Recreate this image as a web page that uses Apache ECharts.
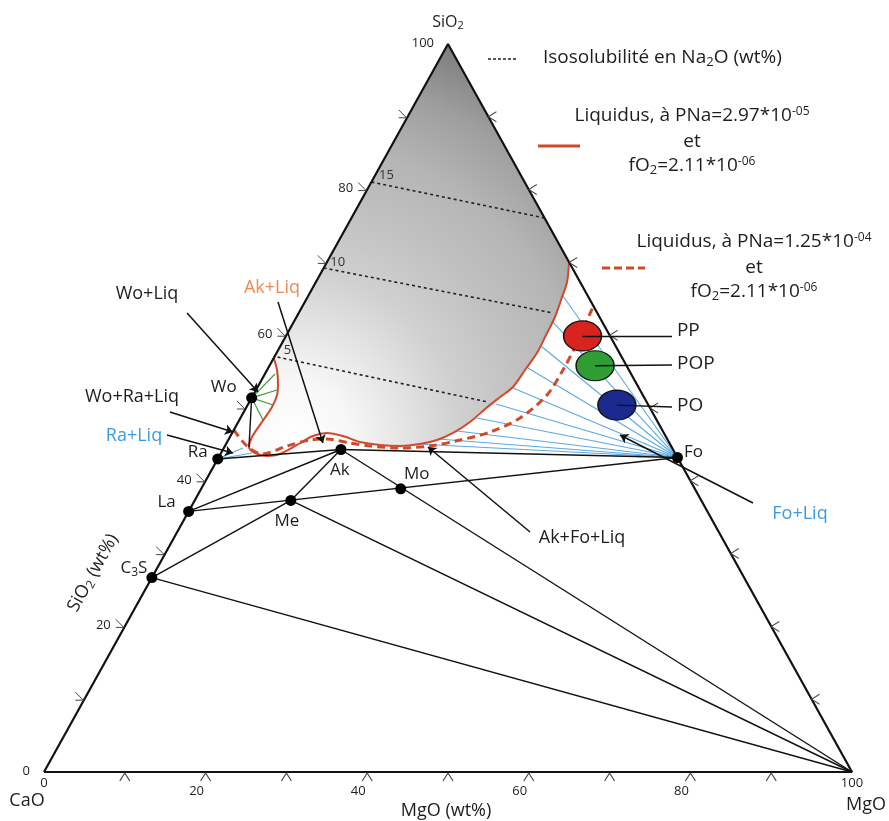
<!DOCTYPE html>
<html><head><meta charset="utf-8">
<script src="https://cdn.jsdelivr.net/npm/echarts@6/dist/echarts.min.js"></script>
<style>html,body{margin:0;padding:0;background:#fff}#c{width:889px;height:821px}</style>
</head><body><div id="c"></div>
<script>
// All compositions are [SiO2, MgO] in wt% (CaO = 100 - SiO2 - MgO)
const vertexNames = ['CaO', 'MgO', 'SiO2'];
const vertexComp = [[0, 0], [0, 100], [100, 0]];

const phaseNames = ['Wo', 'Ra', 'La', 'C3S', 'Ak', 'Me', 'Mo', 'Fo'];
const phaseComp = [[51.4, 0], [43.0, 0], [35.8, 0], [26.7, 0], [44.3, 14.6], [37.3, 11.9], [38.9, 24.7], [43.2, 56.8]];

const tieLines = [['Ra', 'Ak'], ['Ak', 'Fo'], ['La', 'Fo'], ['La', 'Ak'], ['C3S', 'Me'], ['Me', 'Ak'], ['Ak', 'MgO'], ['Me', 'MgO'], ['C3S', 'MgO']];

// liquidus at PNa = 2.97e-5 (solid)
const liquidusSolid = [[56.87, 0], [55.22, 1.23], [53.16, 2.38], [51.79, 2.95], [50.14, 3.15], [48.08, 2.94], [46.02, 2.73], [44.64, 3.05], [43.82, 4.2], [43.41, 5.9], [43.68, 7.37], [44.92, 8.85], [46.15, 10.21], [46.57, 11.74], [46.15, 13.92], [45.33, 16.45], [44.92, 19.12], [44.78, 21.67], [45.05, 24.0], [45.6, 25.84], [46.57, 27.34], [48.08, 28.68], [50.1, 29.8], [51.5, 30.7], [52.88, 31.6], [55.22, 31.92], [57.55, 32.23], [60.03, 32.12], [62.5, 31.99], [64.84, 31.57], [67.31, 31.08], [70.05, 29.95]];
// liquidus at PNa = 1.25e-4 (dashed)
const liquidusDashed = [[46.98, 0], [44.78, 2.73], [43.68, 5.14], [44.78, 7.68], [45.6, 10.12], [45.74, 12.15], [45.19, 15.27], [44.78, 17.96], [44.51, 21.81], [44.78, 25.38], [45.6, 28.69], [46.7, 31.85], [48.63, 34.6], [51.79, 36.36], [55.22, 36.62], [58.38, 36.53], [61.13, 36.27], [63.87, 36.01]];

// Na2O isosolubility lines (wt%)
const isoValues = [15, 10, 5];
const isoStart = [[81.04, 0], [69.23, 0], [57.0, 0.4]];
const isoEnd = [[76.1, 23.9], [63.05, 31.5], [50.82, 29.54]];

// tie-line ends on the liquidus
const foTieEnds = [[65.38, 31.54], [61.81, 32.09], [58.52, 32.25], [55.49, 32.15], [52.75, 31.67], [50.55, 30.67], [48.63, 29.28], [46.84, 27.69], [45.74, 25.89], [45.05, 23.76]];
const woTieEnds = [[54.67, 1.25], [52.47, 2.6], [50.41, 3.13], [48.35, 2.92]];
const raTieEnds = [[44.51, 2.38], [43.82, 3.83]];
const woBoundaryEnd = [44.64, 3.05];

// slag samples
const sampleNames = ['PP', 'POP', 'PO'];
const sampleComp = [[59.9, 36.7], [55.8, 40.3], [50.4, 45.7]];
const sampleLabelAt = [[59.89, 47.77], [55.91, 49.77], [50.14, 52.65]];
const sampleColors = ['#d8231f', '#2e9e34', '#1b2a8e'];

// annotation arrows
const arrowNames = ['Wo+Liq', 'Ak+Liq', 'Wo+Ra+Liq', 'Ra+Liq', 'Ak+Fo+Liq', 'Fo+Liq'];
const arrowFrom = [[63.05, -13.82], [64.56, -3.32], [49.45, -9.14], [46.29, -7.93], [32.97, 43.67], [36.95, 69.27]];
const arrowTo = [[52.2, 0.39], [45.19, 11.93], [46.7, 0.04], [43.82, 1.48], [44.64, 25.2], [46.29, 48.14]];

const tickVals = [10, 20, 30, 40, 50, 60, 70, 80, 90];
const labelVals = [0, 20, 40, 60, 80, 100];

const FONT = "'Open Sans', 'Noto Sans', sans-serif";
const RED = '#cf4a2b';
const INK = '#1e1e1e';

function toXY(c) { return [c[1] + c[0] / 2, c[0]]; }
function comp(name) {
  const i = phaseNames.indexOf(name);
  if (i >= 0) return phaseComp[i];
  return vertexComp[vertexNames.indexOf(name)];
}
function seg(a, b) { return { coords: [toXY(a), toXY(b)] }; }

const chart = echarts.init(document.getElementById('c'), null, { renderer: 'canvas' });

const liqPoly = [[100, 0]].concat(liquidusSolid.slice().reverse());

const phaseLabelOffsets = { Wo: [-28, -11], Ra: [-20, -7], La: [-22, -9], C3S: [-18, -9], Ak: [-1, 21], Me: [-4, 21], Mo: [16, -15], Fo: [16, -5] };

const SUB = (fs, pad) => ({ fontSize: fs, fontFamily: FONT, color: INK, fill: INK, verticalAlign: 'bottom', padding: [pad, 0, 0, 0] });
const SUP = (fs, pad) => ({ fontSize: fs, fontFamily: FONT, color: INK, fill: INK, verticalAlign: 'top', padding: [0, 0, pad, 0] });

function gtext(x, y, text, fs, color, extra) {
  return Object.assign({ type: 'text', x: x, y: y, style: { text: text, fontSize: fs, fontFamily: FONT, fill: color || INK, align: 'center', verticalAlign: 'middle' } }, extra || {});
}

const option = {
  animation: false,
  grid: { left: 44, right: 37, top: 44, bottom: 49 },
  xAxis: { type: 'value', min: 0, max: 100, show: false },
  yAxis: { type: 'value', min: 0, max: 100, show: false },
  series: [
    {
      type: 'custom', silent: true, z: 1, data: [0],
      renderItem: function (params, api) {
        const pts = liqPoly.map(p => api.coord(toXY(p)));
        return {
          type: 'polygon', shape: { points: pts },
          style: {
            fill: new echarts.graphic.RadialGradient(0.13, 0.96, 1.33, [
              { offset: 0, color: '#ffffff' }, { offset: 0.14, color: '#f7f7f7' },
              { offset: 0.27, color: '#e4e4e4' }, { offset: 0.4, color: '#d0d0d0' },
              { offset: 0.55, color: '#c1c1c1' }, { offset: 0.7, color: '#b5b5b5' },
              { offset: 0.85, color: '#9f9f9f' }, { offset: 1, color: '#7c7c7c' }])
          }
        };
      }
    },
    { // isolines
      type: 'lines', coordinateSystem: 'cartesian2d', z: 2, silent: true,
      data: isoStart.map((p, i) => seg(p, isoEnd[i])),
      lineStyle: { color: '#222', width: 1.6, type: [3, 3], opacity: 1 }
    },
    { // isoline labels
      type: 'scatter', z: 3, silent: true, symbolSize: 0, itemStyle: { opacity: 1 },
      data: isoStart.map((p, i) => ({ value: toXY(p), name: String(isoValues[i]), label: { offset: [[15, -7], [14, -6], [10, -7]][i] } })),
      label: { show: true, position: 'inside', formatter: '{b}', fontSize: 13, fontFamily: FONT, color: '#333' }
    },
    { // Fo and Ra tie lines (blue)
      type: 'lines', coordinateSystem: 'cartesian2d', z: 3, silent: true,
      data: foTieEnds.map(p => seg(comp('Fo'), p)).concat(raTieEnds.map(p => seg(comp('Ra'), p))),
      lineStyle: { color: '#5aa9e2', width: 1.1, opacity: 1 }
    },
    { // Wo tie lines (green)
      type: 'lines', coordinateSystem: 'cartesian2d', z: 3, silent: true,
      data: woTieEnds.map(p => seg(comp('Wo'), p)),
      lineStyle: { color: '#3f9d3a', width: 1.2, opacity: 1 }
    },
    { // dashed liquidus
      type: 'line', z: 4, silent: true, symbol: 'none', smooth: 0.3,
      data: liquidusDashed.map(toXY),
      lineStyle: { color: RED, width: 3, type: [8, 5] }
    },
    { // solid liquidus
      type: 'line', z: 5, silent: true, symbol: 'none', smooth: 0.3,
      data: liquidusSolid.map(toXY),
      lineStyle: { color: RED, width: 2 }
    },
    { // black tie lines
      type: 'lines', coordinateSystem: 'cartesian2d', z: 6, silent: true,
      data: tieLines.map(t => seg(comp(t[0]), comp(t[1]))).concat([seg(comp('Wo'), woBoundaryEnd)]),
      lineStyle: { color: '#111', width: 1.4, opacity: 1 }
    },
    { // triangle
      type: 'line', z: 7, silent: true, symbol: 'none',
      data: [comp('CaO'), comp('SiO2'), comp('MgO'), comp('CaO')].map(toXY),
      lineStyle: { color: '#111', width: 2.2 }
    },
    { // left ticks
      type: 'scatter', z: 7, silent: true,
      symbol: 'path://M0 0L8 8L0 8', symbolSize: [8, 8], symbolOffset: [-5, -3],
      itemStyle: { color: 'transparent', borderColor: '#444', borderWidth: 1, opacity: 1 },
      data: tickVals.map(v => toXY([v, 0]))
    },
    { // bottom ticks
      type: 'scatter', z: 7, silent: true,
      symbol: 'path://M0 8L5 0L10 8', symbolSize: [10, 8], symbolOffset: [0, 5],
      itemStyle: { color: 'transparent', borderColor: '#444', borderWidth: 1, opacity: 1 },
      data: tickVals.map(v => toXY([0, v]))
    },
    { // right ticks
      type: 'scatter', z: 7, silent: true,
      symbol: 'path://M8 0L0 5L8 10', symbolSize: [8, 10], symbolOffset: [4, 0],
      itemStyle: { color: 'transparent', borderColor: '#444', borderWidth: 1, opacity: 1 },
      data: tickVals.map(v => toXY([v, 100 - v]))
    },
    { // left tick labels (SiO2)
      type: 'scatter', z: 8, silent: true, symbolSize: 0, itemStyle: { opacity: 1 },
      data: labelVals.map(v => ({ value: toXY([v, 0]), name: String(v) })),
      label: { show: true, position: 'inside', align: 'right', offset: [-14, -1], formatter: '{b}', fontSize: 13, fontFamily: FONT, color: INK }
    },
    { // bottom tick labels (MgO)
      type: 'scatter', z: 8, silent: true, symbolSize: 0, itemStyle: { opacity: 1 },
      data: labelVals.map(v => ({ value: toXY([0, v]), name: String(v), label: { offset: (v === 0 || v === 100) ? [0, 11] : [-9, 19] } })),
      label: { show: true, position: 'inside', formatter: '{b}', fontSize: 13, fontFamily: FONT, color: INK }
    },
    { // phases
      type: 'scatter', z: 10, silent: true, symbolSize: 11,
      itemStyle: { color: '#000', opacity: 1 },
      data: phaseNames.map((n, i) => ({ value: toXY(phaseComp[i]), name: n, label: { offset: phaseLabelOffsets[n] } })),
      label: {
        show: true, position: 'inside', fontSize: 17, fontFamily: FONT, color: INK,
        formatter: p => p.name === 'C3S' ? '{n|C}{s|3}{n|S}' : p.name,
        rich: { n: { fontSize: 17, fontFamily: FONT, color: INK }, s: SUB(12, 8) }
      }
    },
    { // sample connector lines
      type: 'lines', coordinateSystem: 'cartesian2d', z: 11, silent: true,
      data: sampleComp.map((p, i) => seg(p, sampleLabelAt[i])),
      lineStyle: { color: '#111', width: 1.4, opacity: 1 }
    },
    { // samples (ellipses)
      type: 'scatter', z: 10, silent: true, symbol: 'circle', symbolSize: [38, 30],
      data: sampleComp.map((p, i) => ({ value: toXY(p), itemStyle: { color: sampleColors[i] } })),
      itemStyle: { borderColor: '#111', borderWidth: 1.3, opacity: 1 }
    },
    { // sample labels
      type: 'scatter', z: 12, silent: true, symbolSize: 0, itemStyle: { opacity: 1 },
      data: sampleLabelAt.map((p, i) => ({ value: toXY(p), name: sampleNames[i], label: { offset: [0, i === 0 ? -5 : -1] } })),
      label: { show: true, position: 'right', distance: 5, formatter: '{b}', fontSize: 19, fontFamily: FONT, color: INK }
    },
    { // annotation arrows
      type: 'lines', coordinateSystem: 'cartesian2d', z: 12, silent: true,
      symbol: ['none', 'arrow'], symbolSize: 8,
      data: arrowFrom.map((p, i) => seg(p, arrowTo[i])),
      lineStyle: { color: '#111', width: 1.5, opacity: 1 }
    }
  ],
  graphic: [
    { type: 'text', x: 448, y: 22, style: { text: 'SiO{s|2}', fontSize: 16, fontFamily: FONT, fill: INK, align: 'center', verticalAlign: 'middle', rich: { s: SUB(11, 7) } } },
    gtext(27, 801, 'CaO', 18),
    gtext(866, 805, 'MgO', 18),
    gtext(446, 811, 'MgO (wt%)', 18),
    { type: 'text', x: 93, y: 573, rotation: 61 * Math.PI / 180, style: { text: 'SiO{s|2} (wt%)', fontSize: 18, fontFamily: FONT, fill: INK, align: 'center', verticalAlign: 'middle', rich: { s: SUB(12, 8) } } },
    gtext(455, 212, 'Liq', 18),
    gtext(147, 294, 'Wo+Liq', 18),
    gtext(272, 288, 'Ak+Liq', 18, '#ef8a52'),
    gtext(132, 397, 'Wo+Ra+Liq', 18),
    gtext(134, 436, 'Ra+Liq', 18, '#3b9be0'),
    gtext(582, 538, 'Ak+Fo+Liq', 18),
    gtext(800, 514, 'Fo+Liq', 18, '#3b9be0'),
    // legend
    { type: 'line', shape: { x1: 488, y1: 59, x2: 518, y2: 59 }, style: { stroke: '#222', lineWidth: 1.5, lineDash: [3, 2] } },
    { type: 'text', x: 543, y: 58, style: { text: 'Isosolubilité en Na{s|2}O (wt%)', fontSize: 19, fontFamily: FONT, fill: INK, align: 'left', verticalAlign: 'middle', rich: { s: SUB(13, 8) } } },
    { type: 'line', shape: { x1: 538, y1: 146, x2: 580, y2: 146 }, style: { stroke: RED, lineWidth: 3 } },
    { type: 'text', x: 692, y: 116, style: { text: 'Liquidus, à PNa=2.97*10{p|-05}', fontSize: 19, fontFamily: FONT, fill: INK, align: 'center', verticalAlign: 'middle', rich: { p: SUP(12, 9) } } },
    gtext(692, 142, 'et', 19),
    { type: 'text', x: 692, y: 166, style: { text: 'fO{s|2}=2.11*10{p|-06}', fontSize: 19, fontFamily: FONT, fill: INK, align: 'center', verticalAlign: 'middle', rich: { s: SUB(13, 8), p: SUP(12, 9) } } },
    { type: 'line', shape: { x1: 602, y1: 268, x2: 645, y2: 268 }, style: { stroke: RED, lineWidth: 3, lineDash: [8, 4] } },
    { type: 'text', x: 754, y: 242, style: { text: 'Liquidus, à PNa=1.25*10{p|-04}', fontSize: 19, fontFamily: FONT, fill: INK, align: 'center', verticalAlign: 'middle', rich: { p: SUP(12, 9) } } },
    gtext(754, 268, 'et', 19),
    { type: 'text', x: 754, y: 292, style: { text: 'fO{s|2}=2.11*10{p|-06}', fontSize: 19, fontFamily: FONT, fill: INK, align: 'center', verticalAlign: 'middle', rich: { s: SUB(13, 8), p: SUP(12, 9) } } }
  ]
};
chart.setOption(option);
</script>
</body></html>
